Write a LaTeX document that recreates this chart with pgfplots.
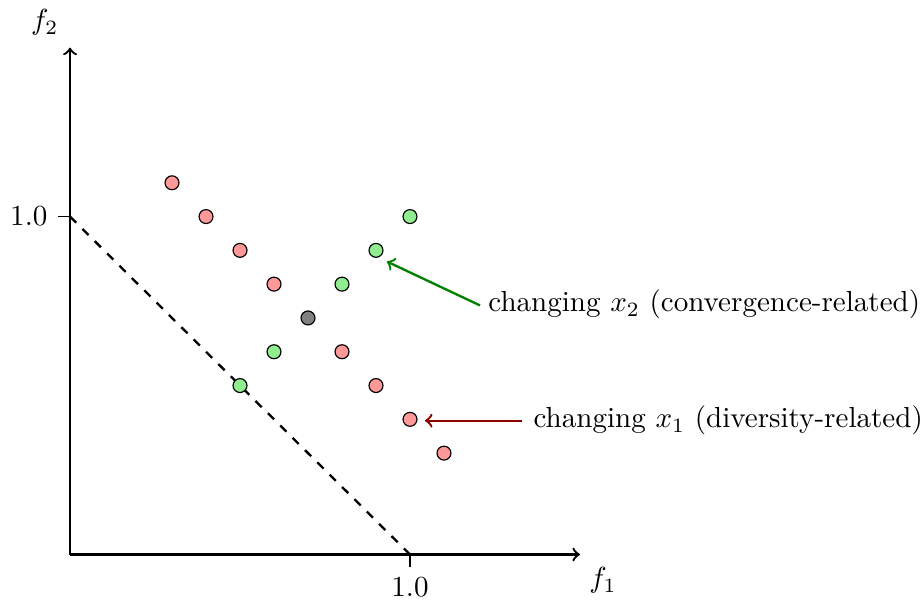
\documentclass[border=0pt]{standalone}
\usepackage{pgfplots}
\pgfplotsset{compat=1.18}
\definecolor{ptred}{RGB}{255,153,153}
\definecolor{ptgreen}{RGB}{144,238,144}
\begin{document}
\begin{tikzpicture}
\begin{axis}[
  x=117pt, y=116.3pt,
  axis lines=left,
  axis line style={thick,->},
  xmin=0, xmax=1.5, ymin=0, ymax=1.5,
  xtick={1}, ytick={1},
  xticklabels={1.0}, yticklabels={1.0},
  tick style={black, thin},
  major tick length=0.15cm,
  tick align=outside,
  clip=false,
]
\path (axis cs:-0.206,-0.145) rectangle (axis cs:2.509,1.633);
\addplot[dashed, thick, black] coordinates {(0,1) (1,0)};
\addplot[only marks, mark=*, mark size=2.4pt, mark options={fill=ptred, draw=black, thin}] coordinates {
 (0.3,1.1) (0.4,1.0) (0.5,0.9) (0.6,0.8) (0.8,0.6) (0.9,0.5) (1.0,0.4) (1.1,0.3)};
\addplot[only marks, mark=*, mark size=2.4pt, mark options={fill=ptgreen, draw=black, thin}] coordinates {
 (0.5,0.5) (0.6,0.6) (0.8,0.8) (0.9,0.9) (1.0,1.0)};
\addplot[only marks, mark=*, mark size=2.4pt, mark options={fill=black!50, draw=black, thin}] coordinates {
 (0.7,0.7)};
\draw[->, thick, green!50!black] (axis cs:1.206,0.737) -- (axis cs:0.932,0.867);
\node[anchor=west, inner sep=0pt] at (axis cs:1.229,0.74) {changing $x_2$ (convergence-related)};
\draw[->, thick, red!55!black] (axis cs:1.329,0.396) -- (axis cs:1.044,0.396);
\node[anchor=west, inner sep=0pt] at (axis cs:1.362,0.396) {changing $x_1$ (diversity-related)};
\node at (axis cs:1.568,-0.077) {$f_1$};
\node at (axis cs:-0.074,1.574) {$f_2$};
\end{axis}
\end{tikzpicture}
\end{document}
